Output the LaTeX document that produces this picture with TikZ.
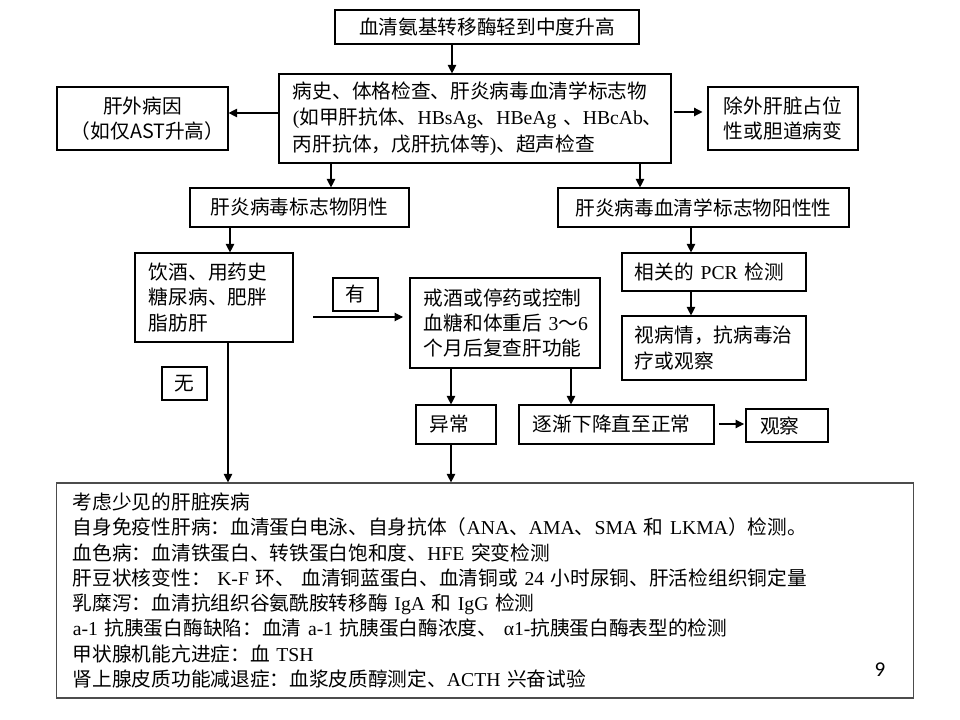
\documentclass[tikz,border=0pt]{standalone}
\usepackage{fontspec}
\setmainfont{Liberation Serif}
\newfontfamily\cjk{Noto Sans CJK SC}
\newfontfamily\lat{Liberation Serif}
\newfontfamily\pagefont{Carlito}
\usetikzlibrary{arrows.meta}

\begin{document}
\begin{tikzpicture}[x=0.025cm, y=-0.025cm,
    box/.style={draw, line width=.8pt, inner xsep=0.35cm, inner ysep=0pt, align=left,
        font=\cjk\fontsize{14pt}{18pt}\selectfont},
    cbox/.style={box, align=center},
    tag/.style={box, inner xsep=0pt, align=center, text width=1.125cm, minimum height=0.825cm},
    arr/.style={-{Triangle[length=6pt,width=6pt]}, line width=.8pt}]
    \useasboundingbox (0,0) rectangle (960,720);
    % first rows
    \node[cbox, text width=6.9cm, minimum height=0.85cm] (alt) at (487,27) {血清氨基转移酶轻到中度升高};
    \node[box, text width=9.1cm, minimum height=2.225cm, font=\cjk\fontsize{14pt}{19pt}\selectfont] (hist) at (475,118.5)
        {\mbox{病史、体格检查、肝炎病毒血清学标志物}\\
         \mbox{{\lat (}如甲肝抗体、{\lat HBsAg}、{\lat HBeAg} 、{\lat HBcAb}、}\\
         \mbox{丙肝抗体，戊肝抗体等{\lat )}、超声检查}};
    \node[cbox, text width=3.575cm, minimum height=1.575cm] (extra) at (142.5,118.5) {肝外病因\\（如仅AST升高）};
    \node[cbox, text width=3.05cm, minimum height=1.575cm] (excl) at (783,118.5) {除外肝脏占位\\性或胆道病变};
    \node[cbox, text width=4.775cm, minimum height=0.975cm] (neg) at (299.5,207.5) {肝炎病毒标志物阴性};
    \node[cbox, text width=6.575cm, minimum height=0.975cm] (pos) at (703.5,207.5) {肝炎病毒血清学标志物阳性性};
    % negative branch
    \node[box, text width=3.25cm, minimum height=2.225cm] (hab) at (214,297.5) {饮酒、用药史\\糖尿病、肥胖\\脂肪肝};
    \node[tag] (yes) at (355.5,294.5) {有};
    \node[tag] (no) at (184.5,383.5) {无};
    \node[box, text width=4.05cm, minimum height=2.25cm] (quit) at (505,323)
        {\mbox{戒酒或停药或控制}\\\mbox{血糖和体重后 {\lat 3}～{\lat 6}}\\\mbox{个月后复查肝功能}};
    \node[box, text width=1.3cm, minimum height=0.975cm] (abn) at (456,424.5) {异常};
    \node[box, text width=4.175cm, minimum height=0.975cm] (down) at (616.5,424.5) {逐渐下降直至正常};
    \node[box, text width=1.35cm, minimum height=0.825cm] (obs) at (787,425.5) {观察};
    % positive branch
    \node[box, inner xsep=0.325cm, text width=3.95cm, minimum height=0.95cm] (pcr) at (714,272) {相关的 {\lat PCR} 检测};
    \node[box, inner xsep=0.325cm, text width=3.95cm, minimum height=1.6cm] (treat) at (714,348) {视病情，抗病毒治\\疗或观察};
    % rare diseases
    \node[box, draw=black!70, inner xsep=0.4cm, text width=20.6cm, minimum height=5.375cm] (rare) at (485,590.5)
        {考虑少见的肝脏疾病\\
         自身免疫性肝病：血清蛋白电泳、自身抗体（{\lat ANA}、{\lat AMA}、{\lat SMA} 和 {\lat LKMA}）检测。\\
         血色病：血清铁蛋白、转铁蛋白饱和度、{\lat HFE} 突变检测\\
         肝豆状核变性： {\lat K-F} 环、 血清铜蓝蛋白、血清铜或 {\lat 24} 小时尿铜、肝活检组织铜定量\\
         乳糜泻：血清抗组织谷氨酰胺转移酶 {\lat IgA} 和 {\lat IgG} 检测\\
         {\lat a-1} 抗胰蛋白酶缺陷：血清 {\lat a-1} 抗胰蛋白酶浓度、 {\lat α1-}抗胰蛋白酶表型的检测\\
         甲状腺机能亢进症：血 {\lat TSH}\\
         肾上腺皮质功能减退症：血浆皮质醇测定、{\lat ACTH} 兴奋试验};
    \node[font=\pagefont\fontsize{15pt}{18pt}\selectfont] (pg) at (880,670) {9};
    % connectors
    \coordinate (yesA) at (313,317);
    \coordinate (yesB) at (403,317);
    \draw[arr] (alt.south -| 452,0) -- (hist.north -| 452,0);
    \draw[arr] (hist.west |- 0,113) -- (extra.east |- 0,113);
    \draw[arr, shorten <=1.5pt, shorten >=3.5pt] (hist.east |- 0,112) -- (excl.west |- 0,112);
    \draw[arr] (hist.south -| 331,0) -- (neg.north -| 331,0);
    \draw[arr] (hist.south -| 640,0) -- (pos.north -| 640,0);
    \draw[arr] (neg.south -| 230,0) -- (hab.north -| 230,0);
    \draw[arr] (yesA) -- (yesB);
    \draw[arr] (hab.south -| 228,0) -- (rare.north -| 228,0);
    \draw[arr] (quit.south -| 451,0) -- (abn.north -| 451,0);
    \draw[arr] (abn.south -| 451,0) -- (rare.north -| 451,0);
    \draw[arr] (quit.south -| 571,0) -- (down.north -| 571,0);
    \draw[arr, shorten <=3pt, shorten >=1pt] (down.east |- 0,424) -- (obs.west |- 0,424);
    \draw[arr] (pos.south -| 691,0) -- (pcr.north -| 691,0);
    \draw[arr] (pcr.south -| 691,0) -- (treat.north -| 691,0);
\end{tikzpicture}
\end{document}
